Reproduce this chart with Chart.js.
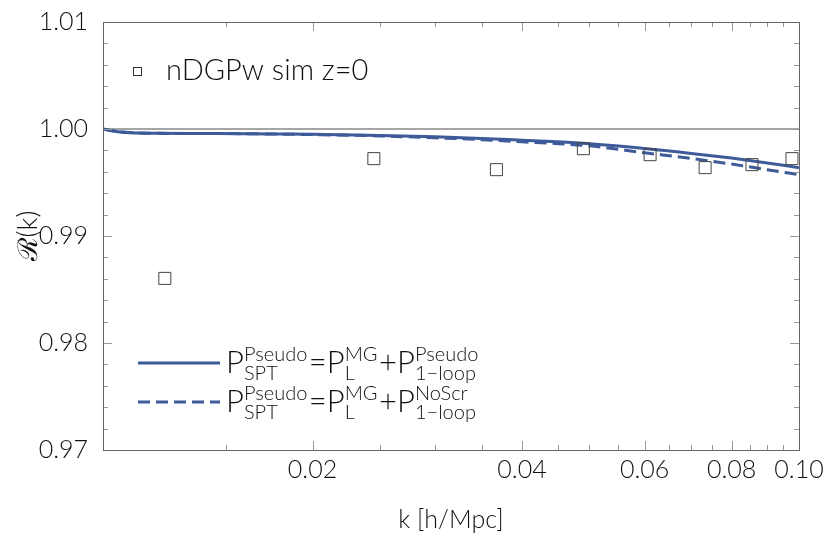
<!DOCTYPE html>
<html>
<head>
<meta charset="utf-8">
<script src="https://cdn.jsdelivr.net/npm/chart.js@4/dist/chart.umd.min.js"></script>
<style>
  html, body { margin: 0; padding: 0; background: #fff; }
  #wrap { width: 830px; height: 536px; }
</style>
</head>
<body>
<div id="wrap"><canvas id="chart" width="830" height="536"></canvas></div>
<script>
// simulation points (nDGPw, z=0)
const simK = [0.01227, 0.0245, 0.03675, 0.0490, 0.0611, 0.0733, 0.0856, 0.0977];
const simR = [0.98604, 0.99723, 0.99620, 0.99816, 0.99760, 0.99639, 0.99667, 0.99723];

// theory curves
const kGrid = [0.0100, 0.0105, 0.011, 0.012, 0.014, 0.016, 0.018, 0.020, 0.025, 0.030,
               0.035, 0.040, 0.045, 0.050, 0.060, 0.070, 0.080, 0.090, 0.100];
const ratioPseudo = [1.0000, 0.99975, 0.99965, 0.99960, 0.99958, 0.99956, 0.99953, 0.99950, 0.99940, 0.99928,
                     0.99912, 0.99895, 0.99880, 0.99862, 0.99818, 0.99772, 0.99728, 0.99683, 0.99638];
const ratioNoScr = [1.0000, 0.99975, 0.99965, 0.99960, 0.99958, 0.99956, 0.99952, 0.99948, 0.99935, 0.99918,
                    0.99900, 0.99880, 0.99863, 0.99843, 0.99778, 0.99725, 0.99672, 0.99620, 0.99573];

// unity reference line
const unityK = [0.01, 0.1];
const unityR = [1.0, 1.0];

// ticks
const xMajorTicks = [0.02, 0.04, 0.06, 0.08, 0.10];
const xTickLabels = ['0.02', '0.04', '0.06', '0.08', '0.10'];
const xMinorTicks = [0.015, 0.025, 0.03, 0.035, 0.045, 0.05, 0.055, 0.065, 0.07, 0.075, 0.085, 0.09, 0.095];
const yMajorTicks = [0.97, 0.98, 0.99, 1.00, 1.01];
const yTickLabels = ['0.97', '0.98', '0.99', '1.00', '1.01'];
const yMinorTicks = [0.972, 0.974, 0.976, 0.978, 0.982, 0.984, 0.986, 0.988, 0.992, 0.994, 0.996, 0.998,
                     1.002, 1.004, 1.006, 1.008];

const FONT = "Lato, 'Liberation Sans', sans-serif";
const BLUE = '#3d5a99';

const pts = (xs, ys) => xs.map((x, i) => ({x: x, y: ys[i]}));

// frame, inward ticks and the two legends
const decor = {
  id: 'decor',
  afterDraw(chart) {
    const ctx = chart.ctx;
    const a = chart.chartArea;
    const xs = chart.scales.x, ys = chart.scales.y;
    ctx.save();
    ctx.lineWidth = 1;
    ctx.strokeStyle = '#999';
    const tick = (v, len, horiz) => {
      ctx.beginPath();
      if (horiz) {
        const p = Math.round(xs.getPixelForValue(v)) + 0.5;
        ctx.moveTo(p, a.bottom); ctx.lineTo(p, a.bottom - len);
        ctx.moveTo(p, a.top); ctx.lineTo(p, a.top + len);
      } else {
        const p = Math.round(ys.getPixelForValue(v)) + 0.5;
        ctx.moveTo(a.left, p); ctx.lineTo(a.left + len, p);
        ctx.moveTo(a.right, p); ctx.lineTo(a.right - len, p);
      }
      ctx.stroke();
    };
    xMinorTicks.forEach(v => tick(v, 5, true));
    xMajorTicks.forEach(v => tick(v, 9, true));
    yMinorTicks.forEach(v => tick(v, 5, false));
    yMajorTicks.forEach(v => tick(v, 9, false));
    ctx.strokeStyle = '#666';
    ctx.strokeRect(Math.round(a.left) + 0.5, Math.round(a.top) + 0.5,
                   Math.round(a.right - a.left), Math.round(a.bottom - a.top));

    // simulation legend
    ctx.strokeStyle = '#333';
    ctx.strokeRect(133.5, 67.5, 8, 8);
    ctx.fillStyle = '#111';
    ctx.font = '300 29px ' + FONT;
    ctx.textBaseline = 'middle';
    ctx.fillText('nDGPw sim z=0', 166, 71);

    // curve legend
    const rich = (x, y, parts) => {
      ctx.textBaseline = 'alphabetic';
      parts.forEach(p => {
        if (p.b) {
          ctx.font = '300 31px ' + FONT;
          ctx.fillText(p.b, x, y);
          x += ctx.measureText(p.b).width;
        } else {
          ctx.font = '300 20px ' + FONT;
          ctx.fillText(p.sup, x, y - 12);
          ctx.fillText(p.sub, x, y + 7);
          x += Math.max(ctx.measureText(p.sup).width, ctx.measureText(p.sub).width) + 1.5;
        }
      });
    };
    const lines = [
      {y: 363, dash: [], parts: [{b: 'P'}, {sup: 'Pseudo', sub: 'SPT'}, {b: '='}, {b: 'P'}, {sup: 'MG', sub: 'L'},
                                 {b: '+'}, {b: 'P'}, {sup: 'Pseudo', sub: '1\u2212loop'}]},
      {y: 402, dash: [12, 6], parts: [{b: 'P'}, {sup: 'Pseudo', sub: 'SPT'}, {b: '='}, {b: 'P'}, {sup: 'MG', sub: 'L'},
                                      {b: '+'}, {b: 'P'}, {sup: 'NoScr', sub: '1\u2212loop'}]}
    ];
    lines.forEach(l => {
      ctx.strokeStyle = BLUE;
      ctx.lineWidth = 3;
      ctx.setLineDash(l.dash);
      ctx.beginPath();
      ctx.moveTo(138, l.y); ctx.lineTo(220, l.y);
      ctx.stroke();
      ctx.setLineDash([]);
      rich(226, l.y + 10, l.parts);
    });
    ctx.restore();
  }
};

new Chart(document.getElementById('chart').getContext('2d'), {
  type: 'scatter',
  data: {
    datasets: [
      {
        label: 'nDGPw sim z=0',
        data: pts(simK, simR),
        showLine: false,
        pointStyle: 'rect',
        pointRadius: 8.5,
        pointBorderWidth: 1,
        pointBorderColor: '#444',
        pointBackgroundColor: 'rgba(0,0,0,0)',
        order: 1
      },
      {
        label: 'Pseudo',
        data: pts(kGrid, ratioPseudo),
        showLine: true,
        borderColor: BLUE,
        borderWidth: 3,
        pointRadius: 0,
        cubicInterpolationMode: 'monotone',
        order: 2
      },
      {
        label: 'NoScr',
        data: pts(kGrid, ratioNoScr),
        showLine: true,
        borderColor: BLUE,
        borderWidth: 3,
        borderDash: [12, 6],
        pointRadius: 0,
        cubicInterpolationMode: 'monotone',
        order: 3
      },
      {
        label: 'unity',
        data: pts(unityK, unityR),
        showLine: true,
        borderColor: '#888',
        borderWidth: 1.5,
        pointRadius: 0,
        order: 10
      }
    ]
  },
  options: {
    responsive: false,
    animation: false,
    layout: { padding: { top: 21, right: 31, left: 0, bottom: 0 } },
    plugins: { legend: { display: false }, tooltip: { enabled: false } },
    scales: {
      x: {
        type: 'logarithmic',
        min: 0.01,
        max: 0.1,
        grid: { display: false, drawTicks: false },
        border: { display: false },
        afterBuildTicks: s => { s.ticks = xMajorTicks.map(v => ({value: v})); },
        afterFit: s => { s.height = 86; },
        ticks: {
          autoSkip: false,
          maxRotation: 0,
          padding: 5,
          color: '#111',
          font: { family: FONT, size: 25, weight: 300 },
          callback: (v, i) => xTickLabels[i]
        },
        title: {
          display: true,
          text: 'k [h/Mpc]',
          color: '#111',
          font: { family: FONT, size: 25, weight: 300 },
          padding: { top: 0, bottom: 1 }
        }
      },
      y: {
        min: 0.97,
        max: 1.01,
        grid: { display: false },
        border: { display: false },
        afterBuildTicks: s => { s.ticks = yMajorTicks.map(v => ({value: v})); },
        afterFit: s => { s.width = 103; },
        ticks: {
          padding: 7,
          color: '#111',
          font: { family: FONT, size: 25, weight: 300 },
          callback: (v, i) => yTickLabels[i]
        },
        title: {
          display: true,
          text: '\u211B(k)',
          color: '#111',
          font: { family: FONT, size: 27, weight: 300 },
          padding: { top: 12, bottom: 0 }
        }
      }
    }
  },
  plugins: [decor]
});
</script>
</body>
</html>
